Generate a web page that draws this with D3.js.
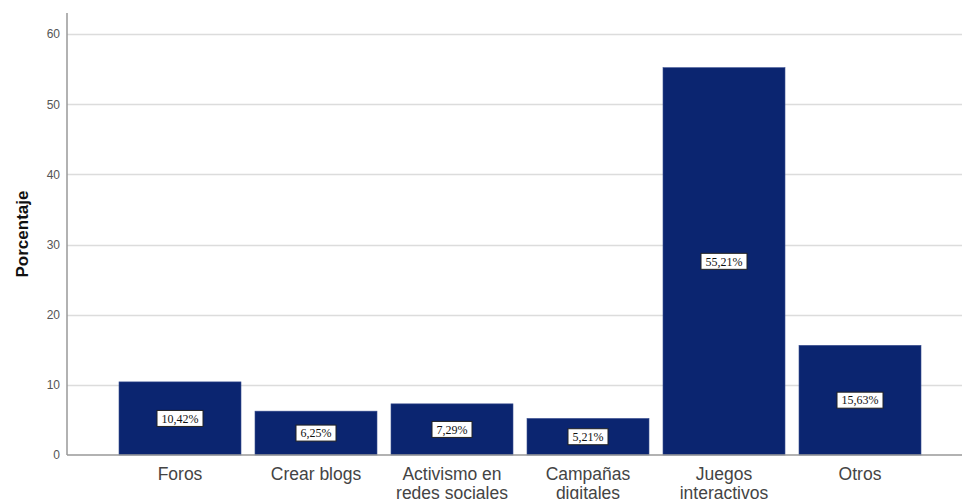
<!DOCTYPE html>
<html>
<head>
<meta charset="utf-8">
<script src="https://cdn.jsdelivr.net/npm/d3@7/dist/d3.min.js"></script>
<style>
html,body{margin:0;padding:0;background:#fff;overflow:hidden;}
svg{display:block;}
</style>
</head>
<body>
<svg id="chart" width="962" height="499"></svg>
<script>
const categories = ["Foros", "Crear blogs", "Activismo en\nredes sociales", "Campañas\ndigitales", "Juegos\ninteractivos", "Otros"];
const values = [10.42, 6.25, 7.29, 5.21, 55.21, 15.63];
const valueLabels = ["10,42%", "6,25%", "7,29%", "5,21%", "55,21%", "15,63%"];
const yTicks = [0, 10, 20, 30, 40, 50, 60];
const yTitle = "Porcentaje";

const W = 962, H = 499;
const axisX = 67, baseY = 455, topY = 13;
const svg = d3.select("#chart");

const x = d3.scaleBand()
  .domain(categories)
  .range([112, 928])
  .paddingInner(14/136)
  .paddingOuter(7/136);

const y = d3.scaleLinear().domain([0, 63]).range([baseY, topY]);

// gridlines
svg.append("g").selectAll("line").data(yTicks.filter(d => d > 0)).join("line")
  .attr("x1", axisX).attr("x2", W)
  .attr("y1", d => Math.round(y(d)) + 0.5).attr("y2", d => Math.round(y(d)) + 0.5)
  .attr("stroke", "#dcdcdc").attr("stroke-width", 1.5);

// y axis
const yAxis = d3.axisLeft(y).tickValues(yTicks).tickSize(0).tickPadding(7).tickFormat(d3.format("d"));
const gy = svg.append("g").attr("transform", `translate(${axisX},0)`).call(yAxis);
gy.select(".domain").remove();
gy.selectAll("text").attr("font-family", "Liberation Sans, Arial, sans-serif")
  .attr("font-size", 12).attr("fill", "#555");
svg.append("line").attr("x1", axisX).attr("x2", axisX).attr("y1", topY).attr("y2", baseY)
  .attr("stroke", "#999").attr("stroke-width", 1.5);

// bars
svg.append("g").selectAll("rect").data(values).join("rect")
  .attr("x", (d, i) => x(categories[i]))
  .attr("width", x.bandwidth())
  .attr("y", d => y(d))
  .attr("height", d => y(0) - y(d))
  .attr("fill", "#0b2570")
  .attr("stroke", "#3a4f90").attr("stroke-width", 0.6);

// baseline
svg.append("line").attr("x1", axisX).attr("x2", W).attr("y1", baseY).attr("y2", baseY)
  .attr("stroke", "#999").attr("stroke-width", 1.5);

// value labels
const lab = svg.append("g").selectAll("g").data(values).join("g")
  .attr("transform", (d, i) => `translate(${x(categories[i]) + x.bandwidth()/2},${(y(d) + y(0))/2})`);
lab.append("rect")
  .attr("x", (d, i) => valueLabels[i].length >= 6 ? -23 : -20)
  .attr("width", (d, i) => valueLabels[i].length >= 6 ? 46 : 40)
  .attr("y", -8).attr("height", 16)
  .attr("fill", "#fff").attr("stroke", "#222").attr("stroke-width", 1);
lab.append("text")
  .attr("text-anchor", "middle").attr("dy", "0.35em")
  .attr("font-family", "Liberation Serif, Times New Roman, serif")
  .attr("font-size", 12).attr("fill", "#111")
  .text((d, i) => valueLabels[i]);

// x labels
const xl = svg.append("g").selectAll("text").data(categories).join("text")
  .attr("x", d => x(d) + x.bandwidth()/2)
  .attr("y", 480)
  .attr("text-anchor", "middle")
  .attr("font-family", "Liberation Sans, Arial, sans-serif")
  .attr("font-size", 17.5).attr("fill", "#444");
xl.each(function(d) {
  const parts = d.split("\n");
  const t = d3.select(this);
  parts.forEach((p, k) => {
    t.append("tspan").attr("x", x(d) + x.bandwidth()/2).attr("dy", k === 0 ? 0 : 19).text(p);
  });
});

// y title
svg.append("text")
  .attr("transform", `translate(28,${(topY + baseY)/2}) rotate(-90)`)
  .attr("text-anchor", "middle")
  .attr("font-family", "Liberation Sans, Arial, sans-serif")
  .attr("font-weight", "bold").attr("font-size", 17).attr("fill", "#111")
  .text(yTitle);
</script>
</body>
</html>
